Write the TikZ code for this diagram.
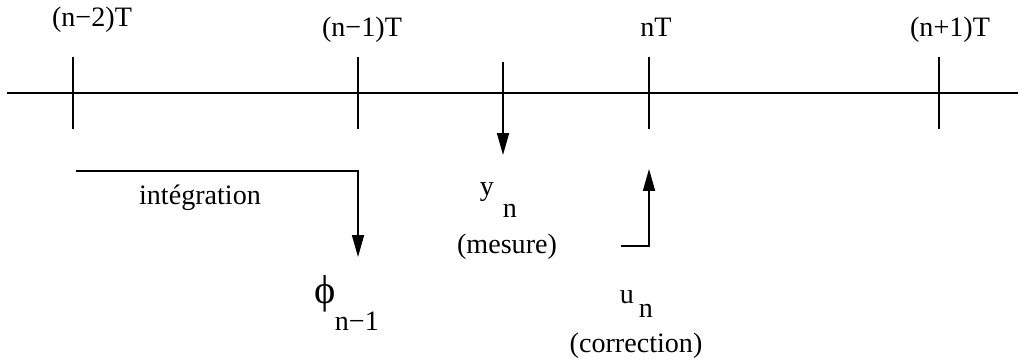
\documentclass[tikz,border=0pt]{standalone}
\usepackage{fontspec}
\setmainfont{Liberation Serif}
\usetikzlibrary{arrows.meta}

\begin{document}
\begin{tikzpicture}[x=0.02cm,y=-0.02cm,line width=1pt,
  >={Triangle[length=4.4mm,width=2.4mm]},
  lbl/.style={inner sep=0pt,anchor=base,font=\fontsize{16}{19}\selectfont},
  sub/.style={inner sep=0pt,anchor=base west,font=\fontsize{16}{19}\selectfont}]
\useasboundingbox (0,0) rectangle (1023,361);
% time axis and ticks
\coordinate (axl) at (7,93);
\coordinate (axr) at (1018,93);
\draw (axl) -- (axr);
\coordinate (t0a) at (73,57);  \coordinate (t0b) at (73,129);
\coordinate (t1a) at (358,57); \coordinate (t1b) at (358,129);
\coordinate (t2a) at (649,57); \coordinate (t2b) at (649,129);
\coordinate (t3a) at (939,57); \coordinate (t3b) at (939,129);
\draw (t0a) -- (t0b);
\draw (t1a) -- (t1b);
\draw (t2a) -- (t2b);
\draw (t3a) -- (t3b);
\node[lbl] (tnm2) at (92,27) {(n\textminus2)T};
\node[lbl] (tnm1) at (362,37) {(n\textminus1)T};
\node[lbl] (tn) at (656,37) {nT};
\node[lbl] (tnp1) at (950,37) {(n+1)T};
% mesure
\coordinate (ms) at (503,62);
\coordinate (me) at (503,155);
\draw[->] (ms) -- (me);
\node[sub] (ylbl) at (479,195) {y};
\node[sub] (ysub) at (502,217) {n};
\node[lbl] (mes) at (507,253) {(mesure)};
% integration
\coordinate (is) at (76,171);
\coordinate (ic) at (358,171);
\coordinate (ie) at (358,257);
\draw[->] (is) -- (ic) -- (ie);
\node[lbl] (integ) at (200,204) {intégration};
\node[sub,font=\fontsize{23}{27}\selectfont] (phi) at (314,303) {ϕ};
\node[sub] (phisub) at (334,330) {n\textminus1};
% correction
\coordinate (cs) at (621,246);
\coordinate (cc) at (649,246);
\coordinate (ce) at (649,169);
\draw[->] (cs) -- (cc) -- (ce);
\node[sub] (ulbl) at (619,303) {u};
\node[sub] (usub) at (638,317) {n};
\node[lbl] (corr) at (636,352) {(correction)};
\end{tikzpicture}
\end{document}
